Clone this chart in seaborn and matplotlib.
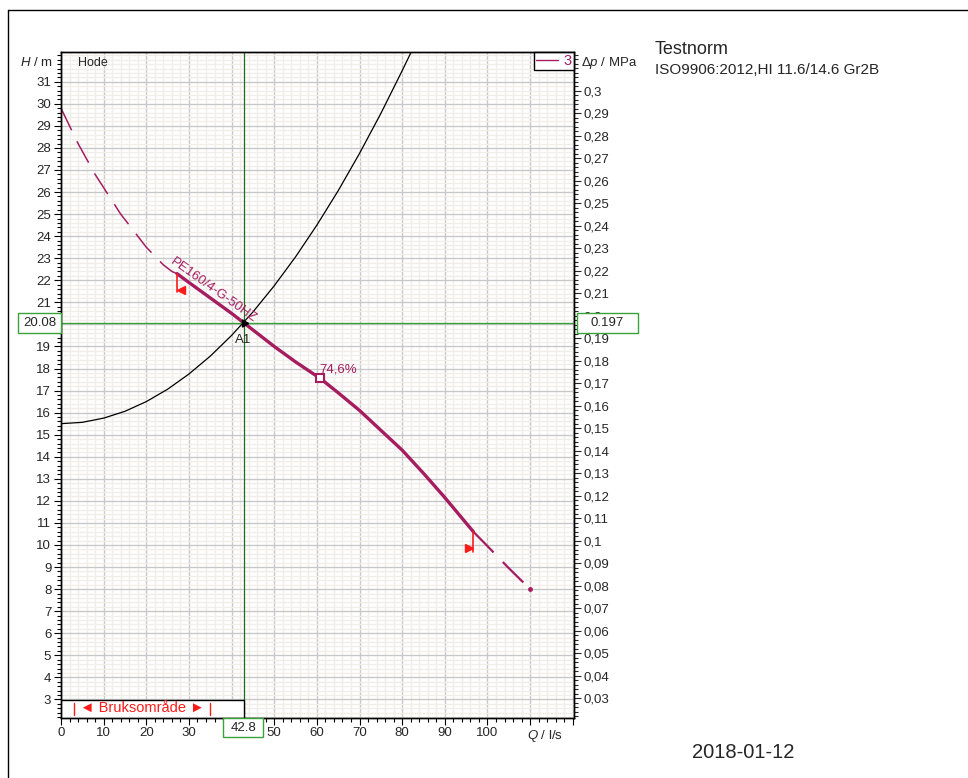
import numpy as np
import pandas as pd
import matplotlib
matplotlib.use("Agg")
import matplotlib.pyplot as plt
import matplotlib.transforms as mtransforms
from matplotlib.lines import Line2D
from matplotlib.patches import Rectangle
from matplotlib.ticker import MultipleLocator, FixedLocator, FuncFormatter
import seaborn as sns

# pump curve (Q in l/s, H in m)
q_dash_lo = [0, 2, 4, 6, 8, 10, 12, 14, 16, 18, 20, 22, 24, 26, 27.2]
h_dash_lo = [29.8, 29.0, 28.2, 27.5, 26.8, 26.2, 25.6, 25.0, 24.5, 24.0, 23.5, 23.1, 22.7, 22.4, 22.3]
q_solid = [27.2, 30, 35, 40, 42.8, 45, 50, 55, 60.8, 65, 70, 75, 80, 85, 90, 96.7]
h_solid = [22.3, 21.9, 21.2, 20.5, 20.08, 19.75, 19.0, 18.3, 17.55, 16.9, 16.1, 15.2, 14.3, 13.25, 12.15, 10.6]
q_dash_hi = [96.7, 100, 105, 110]
h_dash_hi = [10.6, 9.95, 8.95, 8.0]

# system curve
q_sys = [0, 5, 10, 15, 20, 25, 30, 35, 40, 45, 50, 55, 60, 65, 70, 75, 80, 82.5]
h_sys = [15.5, 15.56, 15.75, 16.06, 16.5, 17.06, 17.75, 18.56, 19.5, 20.56,
         21.75, 23.06, 24.5, 26.06, 27.75, 29.56, 31.5, 32.5]

# duty point and best efficiency point
q_duty, h_duty, dp_duty = 42.8, 20.08, 0.197
q_bep, h_bep, eta_bep = 60.8, 17.55, "74,6%"
q_min, q_max = 27.2, 96.7
bruk_lo, bruk_hi = 3.0, 35.0

h_ticks = list(range(3, 32))
dp_ticks = [round(0.03 + 0.01 * i, 2) for i in range(28)]
q_ticks = list(range(0, 121, 10))

MPA_PER_M = 0.00981
PURPLE = "#a51c5f"
GREEN_H = "#39a339"
GREEN_V = "#1e6a1e"
RED = "#ff1a1a"

sns.set_theme(style="white")
plt.rcParams["font.family"] = ["Liberation Sans", "DejaVu Sans"]
plt.rcParams["mathtext.fontset"] = "custom"
plt.rcParams["mathtext.it"] = "Liberation Sans:italic"
plt.rcParams["mathtext.rm"] = "Liberation Sans"
plt.rcParams["lines.solid_joinstyle"] = "round"

fig = plt.figure(figsize=(9.68, 7.78), dpi=100)
ax = fig.add_axes([0.063, 0.0775, 0.530, 0.856])

xlim = (0, 120.3)
ylim = (2.17, 32.36)
ax.set_xlim(*xlim)
ax.set_ylim(*ylim)

# grid
ax.xaxis.set_major_locator(FixedLocator(q_ticks))
ax.xaxis.set_minor_locator(MultipleLocator(2))
ax.yaxis.set_major_locator(FixedLocator(h_ticks))
ax.yaxis.set_minor_locator(MultipleLocator(0.2))
ax.grid(which="minor", color="#f1eee9", lw=1.0)
ax.grid(which="major", color="#c8c8c8", lw=1.0)
ax.set_axisbelow(True)

# curves
df_lo = pd.DataFrame({"Q": q_dash_lo, "H": h_dash_lo})
df_so = pd.DataFrame({"Q": q_solid, "H": h_solid})
df_hi = pd.DataFrame({"Q": q_dash_hi, "H": h_dash_hi})
df_sys = pd.DataFrame({"Q": q_sys, "H": h_sys})

sns.lineplot(data=df_sys, x="Q", y="H", ax=ax, color="black", lw=0.9, estimator=None)
sns.lineplot(data=df_lo, x="Q", y="H", ax=ax, color=PURPLE, lw=1.1,
             estimator=None, linestyle=(0, (16, 8)))
sns.lineplot(data=df_hi, x="Q", y="H", ax=ax, color=PURPLE, lw=1.6,
             estimator=None, linestyle=(0, (13, 6)))
ax.plot([q_dash_hi[-1]], [h_dash_hi[-1]], "o", color=PURPLE, ms=2.5)
sns.lineplot(data=df_so, x="Q", y="H", ax=ax, color=PURPLE, lw=2.4, estimator=None)

# duty lines
ax.axhline(h_duty, color=GREEN_H, lw=1.0, zorder=3)
ax.axvline(q_duty, color=GREEN_V, lw=0.9, zorder=3)

# min / max flow markers
ax.plot([q_min, q_min], [h_solid[0], 21.45], color=RED, lw=1.2, zorder=4)
ax.plot([q_min + 1.0], [21.55], marker="<", color=RED, ms=6, zorder=4)
ax.plot([q_max, q_max], [h_solid[-1], 9.7], color=RED, lw=1.2, zorder=4)
ax.plot([q_max - 1.1], [9.85], marker=">", color=RED, ms=6, zorder=4)

# BEP
ax.plot([q_bep], [h_bep], marker="s", ms=6, mfc="white", mec=PURPLE, mew=1.5, zorder=5)
ax.text(q_bep - 0.2, h_bep + 0.15, eta_bep, color=PURPLE, fontsize=9.5, ha="left", va="bottom")

# duty point
ax.plot([q_duty], [h_duty], marker=(3, 0, 30), color="black", ms=6, zorder=6)
ax.text(q_duty, 19.55, "A1", fontsize=9.5, ha="center", va="top")

ax.text(35.0, 21.3, "PE160/4-G-50HZ", color=PURPLE, fontsize=9.5, rotation=-35.5,
        rotation_mode="anchor", ha="center", va="bottom")

ax.text(0.033, 0.992, "Hode", transform=ax.transAxes, fontsize=9, va="top", ha="left")

# Bruksområde strip
ax.add_patch(Rectangle((0, ylim[0]), q_duty, 2.97 - ylim[0], fc="white", ec="black",
                       lw=1.0, zorder=7))
for q in (bruk_lo, bruk_hi):
    ax.plot([q, q], [2.3, 2.85], color=RED, lw=1.0, zorder=8)
ax.text((bruk_lo + bruk_hi) / 2, 2.57, "◄ Bruksområde ►", color=RED, fontsize=10.5,
        ha="center", va="center", zorder=8)

# legend
ax.legend(handles=[Line2D([], [], color=PURPLE, lw=1.0)], labels=["3"], loc="upper right",
          frameon=True, fancybox=False, edgecolor="black", framealpha=1, borderaxespad=0,
          handlelength=1.5, handletextpad=0.4, borderpad=0.15, fontsize=10.5,
          labelcolor=PURPLE)

# ticks
ax.set_xlabel("")
ax.set_ylabel("")
ax.xaxis.set_major_formatter(FuncFormatter(lambda v, p: f"{v:.0f}" if v <= 100 else ""))
ax.tick_params(which="major", direction="out", length=5, width=0.8, labelsize=9.5, color="black",
               bottom=True, left=True, pad=2)
ax.tick_params(which="minor", direction="out", length=3, width=0.8, color="black",
               bottom=True, left=True)
for s in ax.spines.values():
    s.set_color("black")
    s.set_linewidth(1.0)

ax2 = ax.twinx()
ax2.set_ylim(ylim[0] * MPA_PER_M, ylim[1] * MPA_PER_M)
ax2.yaxis.set_major_locator(FixedLocator(dp_ticks))
ax2.yaxis.set_minor_locator(MultipleLocator(0.002))
ax2.yaxis.set_major_formatter(FuncFormatter(
    lambda v, p: f"{v:.2f}".rstrip("0").replace(".", ",")))
ax2.tick_params(which="major", direction="out", length=5, width=0.8, labelsize=9.5, right=True, pad=2)
ax2.tick_params(which="minor", direction="out", length=3, width=0.8, right=True)
ax2.grid(False)
for s in ax2.spines.values():
    s.set_color("black")
    s.set_linewidth(1.0)

# axis titles
ytr = mtransforms.blended_transform_factory(ax.transAxes, ax.transData)
xtr = mtransforms.blended_transform_factory(ax.transData, ax.transAxes)
ax.text(-0.016, 31.85, "$H$ / m", transform=ytr, ha="right", va="center", fontsize=9.5)
ax2.text(1.013, 31.85 * MPA_PER_M, "Δ$p$ / MPa", transform=mtransforms.blended_transform_factory(
    ax2.transAxes, ax2.transData), ha="left", va="center", fontsize=9.5)
ax.text(113.5, -0.027, "$Q$ / l/s", transform=xtr, ha="center", va="center", fontsize=9.5)

# value boxes (drawn on ax2 so they sit above the tick labels)
ytr2 = mtransforms.blended_transform_factory(ax2.transAxes, ax2.transData)
xtr2 = mtransforms.blended_transform_factory(ax2.transData, ax2.transAxes)
ax2.set_xlim(*xlim)
bh = 0.45 * MPA_PER_M
dp_h = h_duty * MPA_PER_M
ax2.add_patch(Rectangle((-0.084, dp_h - bh), 0.084, 2 * bh, transform=ytr2, fc="white",
                        ec=GREEN_H, lw=1.0, clip_on=False, zorder=10))
ax2.text(-0.042, dp_h, f"{h_duty:.2f}", transform=ytr2, ha="center", va="center",
         fontsize=9.5, zorder=11)
ax2.add_patch(Rectangle((1.006, dp_h - bh), 0.118, 2 * bh, transform=ytr2, fc="white",
                        ec=GREEN_H, lw=1.0, clip_on=False, zorder=10))
ax2.text(1.065, dp_h, f"{dp_duty:.3f}", transform=ytr2, ha="center", va="center",
         fontsize=9.5, zorder=11)
ax2.add_patch(Rectangle((q_duty - 4.8, -0.029), 9.4, 0.028, transform=xtr2, fc="white",
                        ec=GREEN_H, lw=1.0, clip_on=False, zorder=10))
ax2.text(q_duty - 0.1, -0.015, f"{q_duty:.1f}", transform=xtr2, ha="center", va="center",
         fontsize=9.5, zorder=11)

# page text
fig.text(655 / 968, 1 - 49 / 778, "Testnorm", fontsize=13, ha="left", va="center")
fig.text(655 / 968, 1 - 70 / 778, "ISO9906:2012,HI 11.6/14.6 Gr2B", fontsize=11,
         ha="left", va="center")
fig.text(743 / 968, 1 - 753 / 778, "2018-01-12", fontsize=14.5, ha="center", va="center")

# page frame
fig.add_artist(Line2D([8 / 968, 1], [1 - 10 / 778, 1 - 10 / 778], color="black", lw=1.0))
fig.add_artist(Line2D([8 / 968, 8 / 968], [0, 1 - 10 / 778], color="black", lw=1.0))

fig.savefig("out.png", dpi=100)
